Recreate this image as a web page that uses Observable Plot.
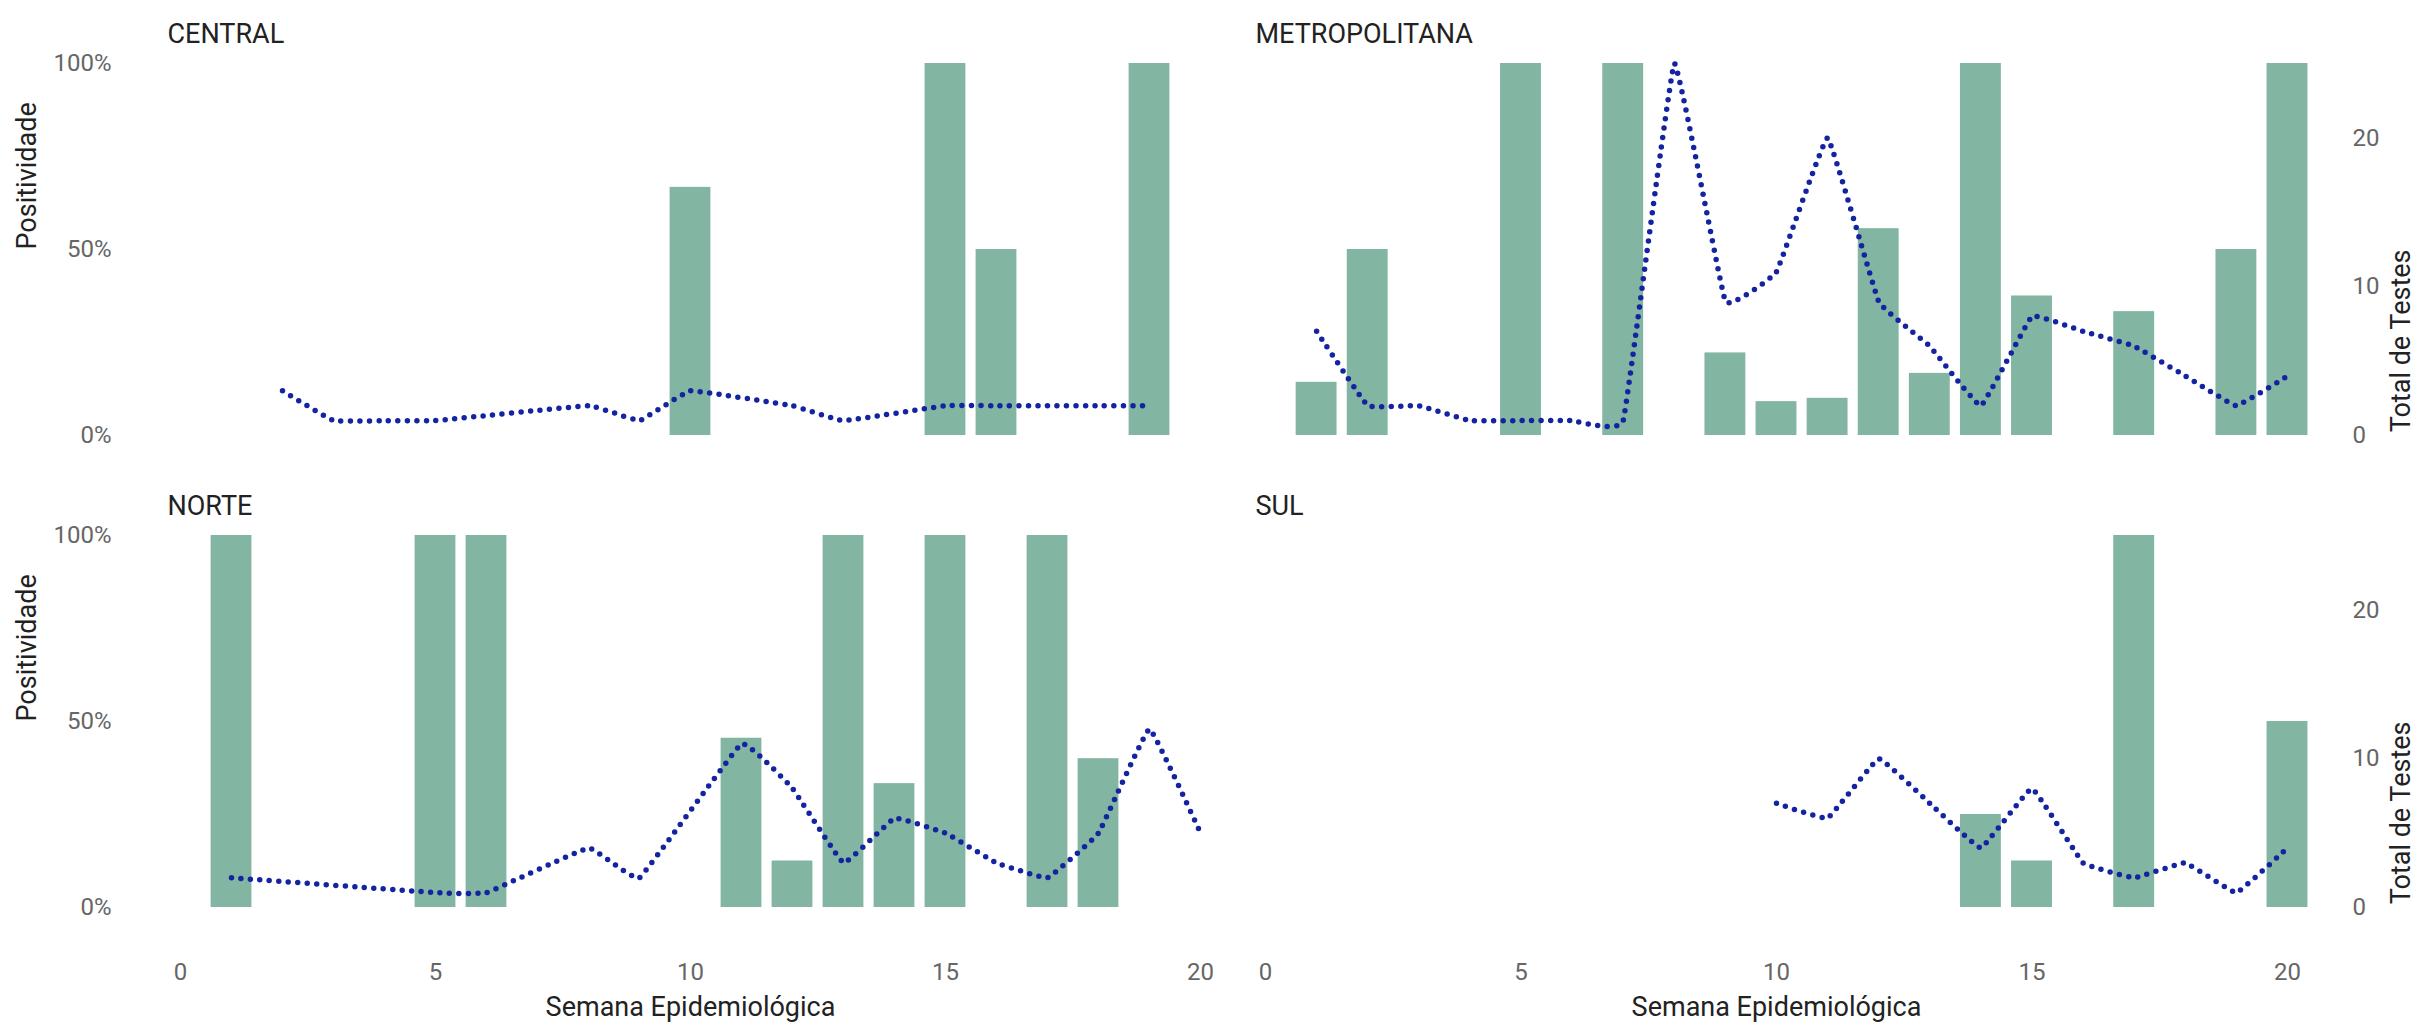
<!DOCTYPE html>
<html>
<head>
<meta charset="utf-8">
<script src="https://cdn.jsdelivr.net/npm/d3@7"></script>
<script src="https://cdn.jsdelivr.net/npm/@observablehq/plot@0.6"></script>
<style>
  html, body { margin: 0; padding: 0; background: #fff; }
  #chart { position: relative; width: 2418px; height: 1026px; background: #fff; overflow: hidden; }
  .panel { position: absolute; }
</style>
</head>
<body>
<div id="chart"></div>
<script>
// ---- Data ----
const centralWeeks = [2, 3, 4, 5, 8, 9, 10, 12, 13, 15, 16, 17, 18, 19];
const centralTests = [3, 1, 1, 1, 2, 1, 3, 2, 1, 2, 2, 2, 2, 2];
const centralPos   = [0, 0, 0, 0, 0, 0, 0.667, 0, 0, 1, 0.5, 0, 0, 1];

const metroWeeks = [1, 2, 3, 4, 5, 6, 7, 8, 9, 10, 11, 12, 13, 14, 15, 16, 17, 18, 19, 20];
const metroTests = [7, 2, 2, 1, 1, 1, 1, 25, 9, 11, 20, 9, 6, 2, 8, 7, 6, 4, 2, 4];
const metroPos   = [0.143, 0.5, 0, 0, 1, 0, 1, 0, 0.222, 0.091, 0.1, 0.556, 0.167, 1, 0.375, 0, 0.333, 0, 0.5, 1];

const norteWeeks = [1, 5, 6, 8, 9, 11, 12, 13, 14, 15, 16, 17, 18, 19, 20];
const norteTests = [2, 1, 1, 4, 2, 11, 8, 3, 6, 5, 3, 2, 5, 12, 5];
const nortePos   = [1, 1, 1, 0, 0, 0.455, 0.125, 1, 0.333, 1, 0, 1, 0.4, 0, 0];

const sulWeeks = [10, 11, 12, 13, 14, 15, 16, 17, 18, 19, 20];
const sulTests = [7, 6, 10, 7, 4, 8, 3, 2, 3, 1, 4];
const sulPos   = [0, 0, 0, 0, 0.25, 0.125, 0, 1, 0, 0, 0.5];

const regions = ["CENTRAL", "METROPOLITANA", "NORTE", "SUL"];
const xTicks = [0, 5, 10, 15, 20];
const pctTicks = [0, 0.5, 1];
const testTicks = [0, 10, 20];
const testsMax = 25; // secondary axis: 100% positivity == 25 tests

const xLabel = "Semana Epidemiológica";
const yLabel = "Positividade";
const y2Label = "Total de Testes";

// ---- Styles ----
const barColor = "#82b5a2";
const lineColor = "#1424a0";
const tickColor = "#666666";
const textColor = "#222222";
const font = "Roboto, 'Open Sans', sans-serif";

function rows(weeks, tests, pos) {
  return weeks.map((w, i) => ({week: w, tests: tests[i], pos: pos[i]}));
}

function panel({title, data, side, bottom, left, top, width, height, mt, mb, ml, mr, xRange}) {
  const marks = [
    Plot.rectY(data, {
      x1: d => d.week - 0.4, x2: d => d.week + 0.4,
      y1: 0, y2: "pos", fill: barColor
    }),
    Plot.line(data, {
      x: "week", y: d => d.tests / testsMax,
      curve: "cardinal", tension: 0.78, stroke: lineColor, strokeWidth: 5.5,
      strokeDasharray: "0 9.5", strokeLinecap: "round"
    }),
    Plot.text([title], {
      frameAnchor: "top-left", dy: -40, textAnchor: "start",
      fontSize: 27, fill: textColor, fontFamily: font
    })
  ];
  if (side === "left") {
    marks.push(Plot.axisY({
      anchor: "left", ticks: pctTicks, tickSize: 0, tickPadding: 56,
      tickFormat: d => Math.round(d * 100) + "%",
      fontSize: 24, fill: tickColor, label: null
    }));
    marks.push(Plot.text([yLabel], {
      frameAnchor: "left", rotate: -90, dx: -140,
      fontSize: 27, fill: textColor, fontFamily: font
    }));
  } else {
    marks.push(Plot.axisY({
      anchor: "right", ticks: testTicks.map(t => t / testsMax), tickSize: 0, tickPadding: 55,
      tickFormat: d => String(Math.round(d * testsMax)),
      fontSize: 24, fill: tickColor, label: null
    }));
    marks.push(Plot.text([y2Label], {
      frameAnchor: "right", rotate: -90, dx: 104,
      fontSize: 27, fill: textColor, fontFamily: font
    }));
  }
  if (bottom) {
    marks.push(Plot.axisX({
      ticks: xTicks, tickSize: 0, tickPadding: 55,
      fontSize: 24, fill: tickColor, label: null
    }));
    marks.push(Plot.text([xLabel], {
      frameAnchor: "bottom", dy: 108,
      fontSize: 27, fill: textColor, fontFamily: font
    }));
  } else {
    marks.push(Plot.axisX({ticks: [], label: null}));
  }
  const svg = Plot.plot({
    width, height,
    marginTop: mt, marginBottom: mb, marginLeft: ml, marginRight: mr,
    x: {domain: [0, 20], range: xRange},
    y: {domain: [0, 1]},
    style: {fontFamily: font, fontSize: "24px", background: "transparent", overflow: "visible"},
    marks
  });
  const div = document.createElement("div");
  div.className = "panel";
  div.style.left = left + "px";
  div.style.top = top + "px";
  div.appendChild(svg);
  document.getElementById("chart").appendChild(div);
}

const datasets = [
  rows(centralWeeks, centralTests, centralPos),
  rows(metroWeeks, metroTests, metroPos),
  rows(norteWeeks, norteTests, nortePos),
  rows(sulWeeks, sulTests, sulPos)
];

// top-left
panel({title: regions[0], data: datasets[0], side: "left", bottom: false,
  left: 0, top: 0, width: 1232, height: 480, mt: 63, mb: 45, ml: 167, mr: 19, xRange: [180, 1200]});
// top-right
panel({title: regions[1], data: datasets[1], side: "right", bottom: false,
  left: 1232, top: 0, width: 1186, height: 480, mt: 63, mb: 45, ml: 23, mr: 121, xRange: [33, 1055]});
// bottom-left
panel({title: regions[2], data: datasets[2], side: "left", bottom: true,
  left: 0, top: 480, width: 1232, height: 546, mt: 55, mb: 119, ml: 167, mr: 19, xRange: [180, 1200]});
// bottom-right
panel({title: regions[3], data: datasets[3], side: "right", bottom: true,
  left: 1232, top: 480, width: 1186, height: 546, mt: 55, mb: 119, ml: 23, mr: 121, xRange: [33, 1055]});
</script>
</body>
</html>
